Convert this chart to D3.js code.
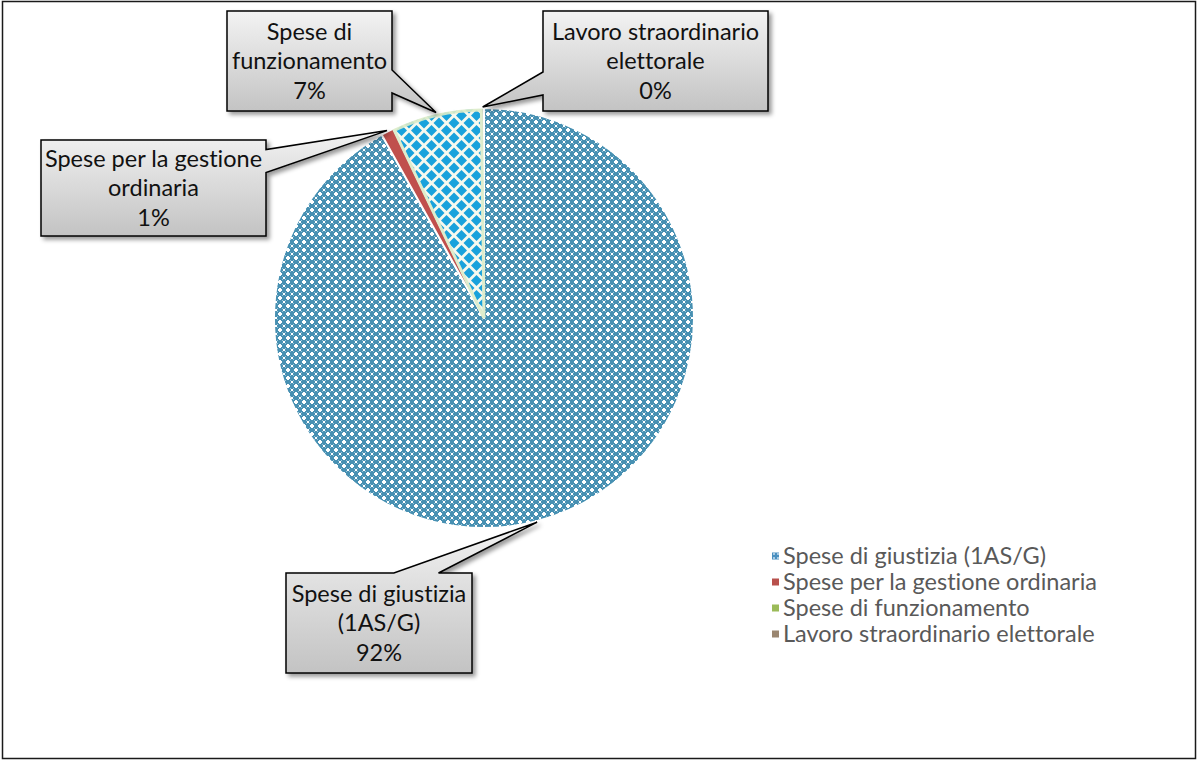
<!DOCTYPE html>
<html>
<head>
<meta charset="utf-8">
<script src="https://cdn.jsdelivr.net/npm/d3@7"></script>
<style>
  body { margin: 0; background: #fff; }
  svg { display: block; font-family: Lato, "Open Sans", sans-serif; font-variant-ligatures: none; font-feature-settings: "liga" 0, "clig" 0; }
</style>
</head>
<body>
<svg id="chart" width="1198" height="760"></svg>
<script>
// Budget split by expense item (percent of total)
const categories = [
  "Spese di giustizia (1AS/G)",
  "Spese per la gestione ordinaria",
  "Spese di funzionamento",
  "Lavoro straordinario elettorale"
];
const shares = [91.9, 1.0, 6.9, 0.2];
// Category names as they wrap inside each callout
const calloutLines = [
  ["Spese di giustizia", "(1AS/G)"],
  ["Spese per la gestione", "ordinaria"],
  ["Spese di", "funzionamento"],
  ["Lavoro straordinario", "elettorale"]
];

const svg = d3.select("#chart");
const W = 1198, H = 760;
const cx = 484, cy = 318, R = 210;

const defs = svg.append("defs");

// Fine blue weave used by the large slice
const weave = defs.append("pattern").attr("id", "weave")
  .attr("patternUnits", "userSpaceOnUse").attr("width", 8).attr("height", 8);
weave.append("rect").attr("width", 8).attr("height", 8).attr("fill", "#4790b2");
[[1,1,1,1],[6,1,1,1],[1,6,1,1],[6,6,1,1]].forEach(([x,y,w,h]) =>
  weave.append("rect").attr("x", x).attr("y", y).attr("width", w).attr("height", h).attr("fill", "#9cc6da"));
[[2,3,4,2],[3,2,2,4],[0,0,1,1],[7,0,1,1],[0,7,1,1],[7,7,1,1]].forEach(([x,y,w,h]) =>
  weave.append("rect").attr("x", x).attr("y", y).attr("width", w).attr("height", h).attr("fill", "#ffffff"));

// Blue diamonds on a pale ground
const diamonds = defs.append("pattern").attr("id", "diamonds")
  .attr("patternUnits", "userSpaceOnUse").attr("width", 15).attr("height", 15);
diamonds.append("rect").attr("width", 15).attr("height", 15).attr("fill", "#f6f9ef");
[[7.5,7.5],[0,0],[15,0],[0,15],[15,15]].forEach(([x,y]) =>
  diamonds.append("path")
    .attr("d", `M${x},${y-5.5}L${x+5.5},${y}L${x},${y+5.5}L${x-5.5},${y}Z`)
    .attr("fill", "#19a2dc"));

// Callout fill
const grad = defs.append("linearGradient").attr("id", "calloutFill")
  .attr("x1", 0).attr("y1", 0).attr("x2", 0).attr("y2", 1);
grad.append("stop").attr("offset", "0%").attr("stop-color", "#f3f3f3");
grad.append("stop").attr("offset", "100%").attr("stop-color", "#c3c3c3");

const shadow = defs.append("filter").attr("id", "shadow")
  .attr("x", "-20%").attr("y", "-20%").attr("width", "140%").attr("height", "140%");
shadow.append("feDropShadow").attr("dx", 3).attr("dy", 3).attr("stdDeviation", 2)
  .attr("flood-color", "#000").attr("flood-opacity", 0.4);

const fills = ["url(#weave)", "#c0504d", "url(#diamonds)", "#8064a2"];
const legendFills = ["url(#weaveSmall)", "#b8504c", "#9bbb59", "#9a8670"];

// Outer frame
svg.append("rect").attr("x", 2.5).attr("y", 1.5).attr("width", W - 5).attr("height", H - 3)
  .attr("fill", "#fff").attr("stroke", "#1a1a1a").attr("stroke-width", 1.5);

// Pie
const pie = d3.pie().sort(null).value(d => d);
const arcs = pie(shares);
const arcGen = d3.arc().innerRadius(0).outerRadius(R);

const gPie = svg.append("g").attr("transform", `translate(${cx},${cy})`);
gPie.selectAll("path.slice").data(arcs).join("path")
  .attr("class", "slice")
  .attr("d", arcGen)
  .attr("fill", (d, i) => fills[i])
  .attr("stroke", "#fff").attr("stroke-width", 2).attr("stroke-linejoin", "round");

// Soft green rim on the diamond slice
gPie.append("path").attr("d", d3.arc().innerRadius(0).outerRadius(R - 2)(arcs[2]))
  .attr("fill", "none").attr("stroke", "#dcebc8").attr("stroke-width", 3).attr("opacity", 0.9);

// Callouts: box geometry and where the pointer leaves the box
const callouts = [
  { x: 286, y: 573, w: 186, h: 100, side: "top",   a: 0.58, b: 0.82 },
  { x: 41,  y: 140, w: 225, h: 96,  side: "right", a: 0.10, b: 0.34 },
  { x: 227, y: 11,  w: 165, h: 100, side: "right", a: 0.59, b: 0.82 },
  { x: 543, y: 11,  w: 225, h: 100, side: "left",  a: 0.61, b: 0.84 }
];

function tipOf(d) {
  const m = (d.startAngle + d.endAngle) / 2;
  return [cx + (R + 1) * Math.sin(m), cy - (R + 1) * Math.cos(m)];
}

function calloutPath(c, tip) {
  const { x, y, w, h } = c;
  const p = d3.path();
  p.moveTo(x, y);
  if (c.side === "top") {
    p.lineTo(x + c.a * w, y); p.lineTo(tip[0], tip[1]); p.lineTo(x + c.b * w, y);
  }
  p.lineTo(x + w, y);
  if (c.side === "right") {
    p.lineTo(x + w, y + c.a * h); p.lineTo(tip[0], tip[1]); p.lineTo(x + w, y + c.b * h);
  }
  p.lineTo(x + w, y + h);
  p.lineTo(x, y + h);
  if (c.side === "left") {
    p.lineTo(x, y + c.b * h); p.lineTo(tip[0], tip[1]); p.lineTo(x, y + c.a * h);
  }
  p.closePath();
  return p.toString();
}

const pct = d3.format(".0f");
const gCall = svg.append("g");
callouts.forEach((c, i) => {
  const g = gCall.append("g");
  g.append("path").attr("d", calloutPath(c, tipOf(arcs[i])))
    .attr("fill", "url(#calloutFill)").attr("stroke", "#000").attr("stroke-width", 1.5)
    .attr("stroke-linejoin", "miter").attr("filter", "url(#shadow)");
  const lines = calloutLines[i].concat([pct(shares[i]) + "%"]);
  const lh = 29.5;
  const y0 = c.y + c.h / 2 - lh * (lines.length - 1) / 2;
  g.selectAll("text").data(lines).join("text")
    .attr("x", c.x + c.w / 2).attr("y", (d, k) => y0 + k * lh)
    .attr("dy", "0.35em").attr("text-anchor", "middle")
    .attr("font-size", 23.5).attr("fill", "#111")
    .text(d => d);
});

// Legend
const weaveSmall = defs.append("pattern").attr("id", "weaveSmall")
  .attr("patternUnits", "userSpaceOnUse").attr("width", 4).attr("height", 4);
weaveSmall.append("rect").attr("width", 4).attr("height", 4).attr("fill", "#4a90c0");
weaveSmall.append("rect").attr("x", 1).attr("y", 1).attr("width", 2).attr("height", 2).attr("fill", "#a9cbe4");

const legend = svg.append("g").attr("transform", "translate(772,556)");
const item = legend.selectAll("g").data(categories).join("g")
  .attr("transform", (d, i) => `translate(0,${i * 26})`);
item.append("rect").attr("x", 0).attr("y", -3.5).attr("width", 7).attr("height", 7)
  .attr("fill", (d, i) => legendFills[i]);
item.append("text").attr("x", 11).attr("dy", "0.35em")
  .attr("font-size", 23.5).attr("fill", "#595959").text(d => d);
</script>
</body>
</html>
